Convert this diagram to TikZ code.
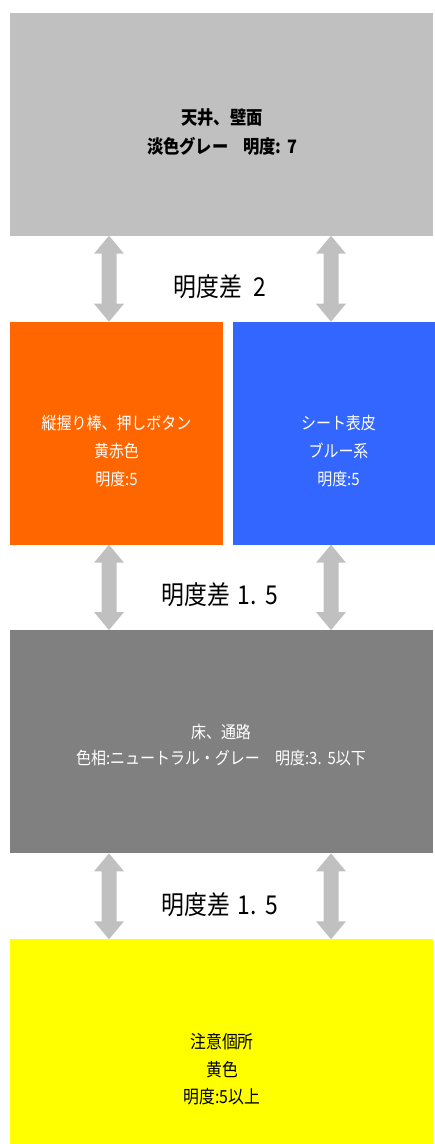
\documentclass[tikz,border=0pt]{standalone}
\usepackage{fontspec}
\setmainfont[FakeStretch=0.88]{Noto Sans CJK JP}
\usetikzlibrary{calc}
\definecolor{lgray}{HTML}{C0C0C0}
\definecolor{orng}{HTML}{FF6600}
\definecolor{blu}{HTML}{3366FF}
\definecolor{dgray}{HTML}{808080}
\definecolor{ylw}{HTML}{FFFF00}
\newcommand\dblarrow[2]{%
  \fill[arrowfill] (#1) -- ++(15,18) -- ++(-7.5,0) -- ($(#2)+(7.5,-18)$) -- ++(7.5,0)
    -- (#2) -- ++(-15,-18) -- ++(7.5,0) -- ($(#1)+(-7.5,18)$) -- ++(-7.5,0) -- cycle;}
\begin{document}
\begin{tikzpicture}[x=1pt,y=-1pt,
  box/.style={draw=none,inner sep=0pt,outer sep=0pt},
  txt/.style={align=center,inner sep=0pt},
  arrowfill/.style={fill=lgray},
  lbl/.style={inner sep=0pt,font=\fontsize{26}{30}\selectfont}]
\useasboundingbox (0,0) rectangle (435,1144);
\clip (0,0) rectangle (435,1144);
% boxes
\node[box,fill=lgray,minimum width=422.4pt,minimum height=223pt] (ceil) at (221.5,124.2) {};
\node[box,fill=orng,minimum width=212.4pt,minimum height=223pt] (org) at (116.5,433.2) {};
\node[box,fill=blu,minimum width=212.4pt,minimum height=223pt] (seat) at (338.9,433.2) {};
\node[box,fill=dgray,minimum width=422.4pt,minimum height=223.3pt] (floor) at (221.5,741.7) {};
\node[box,fill=ylw,minimum width=422.4pt,minimum height=223pt] (yel) at (221.5,1050.8) {};
% texts
\node[txt,font=\fontsize{18.5}{29}\selectfont\bfseries] (tceil) at (222,132.5)
  {天井、壁面\\淡色グレー\hspace{0.8em}明度:\hspace{0.3em}7};
\node[txt,text=white,font=\fontsize{17}{28}\selectfont] (torg) at (116.5,451)
  {縦握り棒、押しボタン\\黄赤色\\明度:5};
\node[txt,text=white,font=\fontsize{17}{28}\selectfont] (tseat) at (338.5,451)
  {シート表皮\\ブルー系\\明度:5};
\node[txt,text=white,font=\fontsize{17}{26}\selectfont] (tfloor) at (221,745)
  {床、通路\\色相:ニュートラル・グレー\hspace{0.9em}明度:3.\hspace{0.35em}5以下};
\node[txt,font=\fontsize{18}{27.5}\selectfont] (tyel) at (222,1069.5)
  {注意個所\\黄色\\明度:5以上};
% labels
\node[lbl] (l1) at (220,287) {明度差\hspace{0.45em}2};
\node[lbl] (l2) at (220,595) {明度差\hspace{0.3em}1.\hspace{0.35em}5};
\node[lbl] (l3) at (220,905) {明度差\hspace{0.3em}1.\hspace{0.35em}5};
% arrows
\coordinate (la) at (109,0);
\coordinate (ra) at (331,0);
\coordinate (a1) at (ceil.south -| la);
\coordinate (a2) at (org.north -| la);
\coordinate (b1) at (ceil.south -| ra);
\coordinate (b2) at (seat.north -| ra);
\coordinate (a3) at (org.south -| la);
\coordinate (a4) at (floor.north -| la);
\coordinate (b3) at (seat.south -| ra);
\coordinate (b4) at (floor.north -| ra);
\coordinate (a5) at (floor.south -| la);
\coordinate (a6) at (yel.north -| la);
\coordinate (b5) at (floor.south -| ra);
\coordinate (b6) at (yel.north -| ra);
\dblarrow{a1}{a2}
\dblarrow{b1}{b2}
\dblarrow{a3}{a4}
\dblarrow{b3}{b4}
\dblarrow{a5}{a6}
\dblarrow{b5}{b6}
\end{tikzpicture}
\end{document}
